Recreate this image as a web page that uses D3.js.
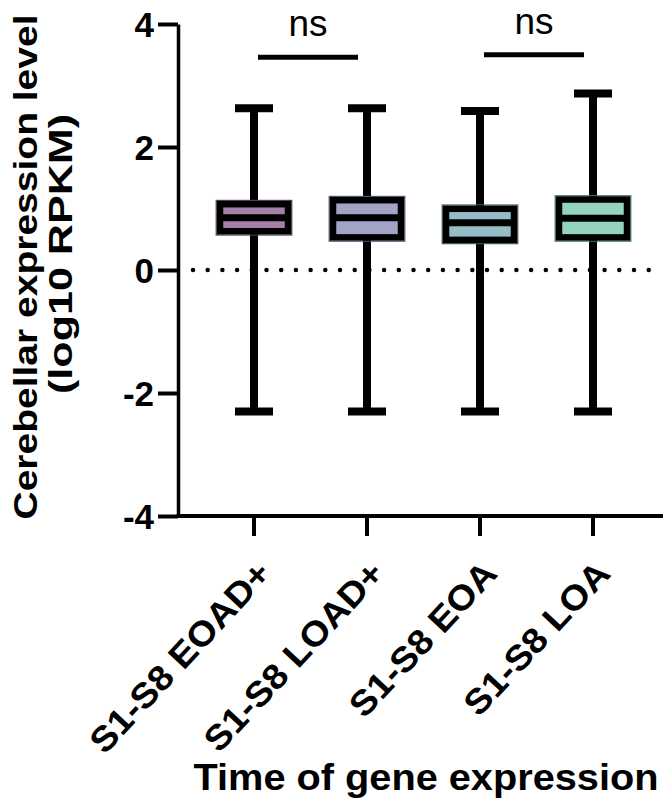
<!DOCTYPE html>
<html>
<head>
<meta charset="utf-8">
<script src="https://cdn.jsdelivr.net/npm/d3@7"></script>
<style>
  body { margin: 0; background: #fff; }
  svg { display: block; }
  text { font-family: "Liberation Sans", Arial, sans-serif; fill: #000; }
</style>
</head>
<body>
<script>
(function () {
	"use strict";

	var w = 665;
	var h = 803;

	// data (log10 RPKM)
	var categories = ["S1-S8 EOAD+", "S1-S8 LOAD+", "S1-S8 EOA", "S1-S8 LOA"];
	var whiskerLow = [-2.30, -2.30, -2.30, -2.30];
	var q1 = [0.63, 0.53, 0.49, 0.53];
	var medians = [0.85, 0.85, 0.77, 0.84];
	var q3 = [1.07, 1.135, 0.995, 1.146];
	var whiskerHigh = [2.63, 2.63, 2.585, 2.87];
	var fills = ["#a57fa7", "#a2a3c5", "#96bdc7", "#93d3bf"];
	var edges = ["#5a3f5c", "#55557a", "#3f5f66", "#3f7a66"];
	var yTicks = [-4, -2, 0, 2, 4];
	var pairs = [[0, 1], [2, 3]];
	var pairLevel = [3.46, 3.50];
	var pairLabel = ["ns", "ns"];

	var left = 178, right = 663, top = 24, bottom = 516;

	var svg = d3.select("body")
		.append("svg")
		.attr("width", w)
		.attr("height", h);

	// Scales
	var xScale = d3.scaleBand()
		.domain(categories)
		.range([197.5, 649.5]);

	var yScale = d3.scaleLinear()
		.domain([-4, 4])
		.range([bottom, top]);

	var cx = (i) => xScale(categories[i]) + xScale.bandwidth() / 2;

	// dotted zero line
	svg.append("line")
		.attr("x1", left + 15).attr("x2", right)
		.attr("y1", yScale(0)).attr("y2", yScale(0))
		.attr("stroke", "#000")
		.attr("stroke-width", 4.5)
		.attr("stroke-linecap", "round")
		.attr("stroke-dasharray", "0 14.7");

	// Axis
	var yAxisGen = d3.axisLeft(yScale)
		.tickValues(yTicks)
		.tickFormat((d) => String(d))
		.tickSize(20)
		.tickSizeOuter(0)
		.tickPadding(4);

	var yAxis = svg.append("g")
		.attr("transform", "translate(" + left + ",0)")
		.call(yAxisGen);
	yAxis.select(".domain").attr("stroke-width", 3.5);
	yAxis.selectAll(".tick line").attr("stroke-width", 4);
	yAxis.selectAll(".tick text")
		.attr("font-size", 35)
		.attr("font-weight", "bold")
		.attr("dy", "0.36em");

	var xAxisGen = d3.axisBottom(xScale)
		.tickSize(20)
		.tickSizeOuter(0);

	var xAxis = svg.append("g")
		.attr("transform", "translate(0," + bottom + ")")
		.call(xAxisGen);
	xAxis.select(".domain").remove();
	xAxis.selectAll(".tick line").attr("stroke-width", 4);
	xAxis.selectAll(".tick text")
		.attr("font-size", 35)
		.attr("font-weight", "bold")
		.attr("text-anchor", "end")
		.attr("transform", "translate(19,59) rotate(-47)")
		.attr("y", 0)
		.attr("dy", 0)
		.each(function () {
			var len = this.getComputedTextLength();
			d3.select(this).attr("textLength", len * 1.08).attr("lengthAdjust", "spacingAndGlyphs");
		});

	svg.append("line")
		.attr("x1", left - 1.5).attr("x2", right)
		.attr("y1", bottom).attr("y2", bottom)
		.attr("stroke", "#000")
		.attr("stroke-width", 4);

	// Boxes
	var idx = d3.range(categories.length);
	var boxHalf = 34, capHalf = 19;
	var g = svg.append("g");

	g.selectAll(".whisker")
		.data(idx).enter().append("line")
		.attr("x1", cx).attr("x2", cx)
		.attr("y1", (i) => yScale(whiskerLow[i]))
		.attr("y2", (i) => yScale(whiskerHigh[i]))
		.attr("stroke", "#000")
		.attr("stroke-width", 8);

	[whiskerLow, whiskerHigh].forEach(function (arr) {
		g.selectAll(null)
			.data(idx).enter().append("line")
			.attr("x1", (i) => cx(i) - capHalf).attr("x2", (i) => cx(i) + capHalf)
			.attr("y1", (i) => yScale(arr[i])).attr("y2", (i) => yScale(arr[i]))
			.attr("stroke", "#000")
			.attr("stroke-width", 8);
	});

	// thin coloured rim
	g.selectAll(".rim")
		.data(idx).enter().append("rect")
		.attr("x", (i) => cx(i) - boxHalf - 3.8)
		.attr("y", (i) => yScale(q3[i]) - 3.8)
		.attr("width", 2 * boxHalf + 7.6)
		.attr("height", (i) => yScale(q1[i]) - yScale(q3[i]) + 7.6)
		.attr("fill", "none")
		.attr("stroke", (i) => edges[i])
		.attr("stroke-width", 1.2);

	g.selectAll(".box")
		.data(idx).enter().append("rect")
		.attr("x", (i) => cx(i) - boxHalf)
		.attr("y", (i) => yScale(q3[i]))
		.attr("width", 2 * boxHalf)
		.attr("height", (i) => yScale(q1[i]) - yScale(q3[i]))
		.attr("fill", (i) => fills[i])
		.attr("stroke", "#000")
		.attr("stroke-width", 6.5);

	g.selectAll(".median")
		.data(idx).enter().append("line")
		.attr("x1", (i) => cx(i) - boxHalf).attr("x2", (i) => cx(i) + boxHalf)
		.attr("y1", (i) => yScale(medians[i])).attr("y2", (i) => yScale(medians[i]))
		.attr("stroke", "#000")
		.attr("stroke-width", 7);

	// significance bars
	pairs.forEach(function (p, k) {
		var x1 = cx(p[0]) + 4, x2 = cx(p[1]) - 9;
		svg.append("line")
			.attr("x1", x1).attr("x2", x2)
			.attr("y1", yScale(pairLevel[k])).attr("y2", yScale(pairLevel[k]))
			.attr("stroke", "#000")
			.attr("stroke-width", 5);
		svg.append("text")
			.attr("x", (x1 + x2) / 2)
			.attr("y", yScale(pairLevel[k]) - 21)
			.attr("text-anchor", "middle")
			.attr("font-size", 37)
			.text(pairLabel[k]);
	});

	// Axis titles
	svg.append("text")
		.attr("transform", "translate(37,267) rotate(-90)")
		.attr("text-anchor", "middle")
		.attr("font-size", 34)
		.attr("font-weight", "bold")
		.attr("textLength", 505)
		.attr("lengthAdjust", "spacingAndGlyphs")
		.text("Cerebellar expression level");

	svg.append("text")
		.attr("transform", "translate(72,254) rotate(-90)")
		.attr("text-anchor", "middle")
		.attr("font-size", 34)
		.attr("font-weight", "bold")
		.attr("textLength", 280)
		.attr("lengthAdjust", "spacingAndGlyphs")
		.text("(log10 RPKM)");

	svg.append("text")
		.attr("x", 426)
		.attr("y", 790)
		.attr("text-anchor", "middle")
		.attr("font-size", 36)
		.attr("font-weight", "bold")
		.attr("textLength", 465)
		.attr("lengthAdjust", "spacingAndGlyphs")
		.text("Time of gene expression");
})();
</script>
</body>
</html>
